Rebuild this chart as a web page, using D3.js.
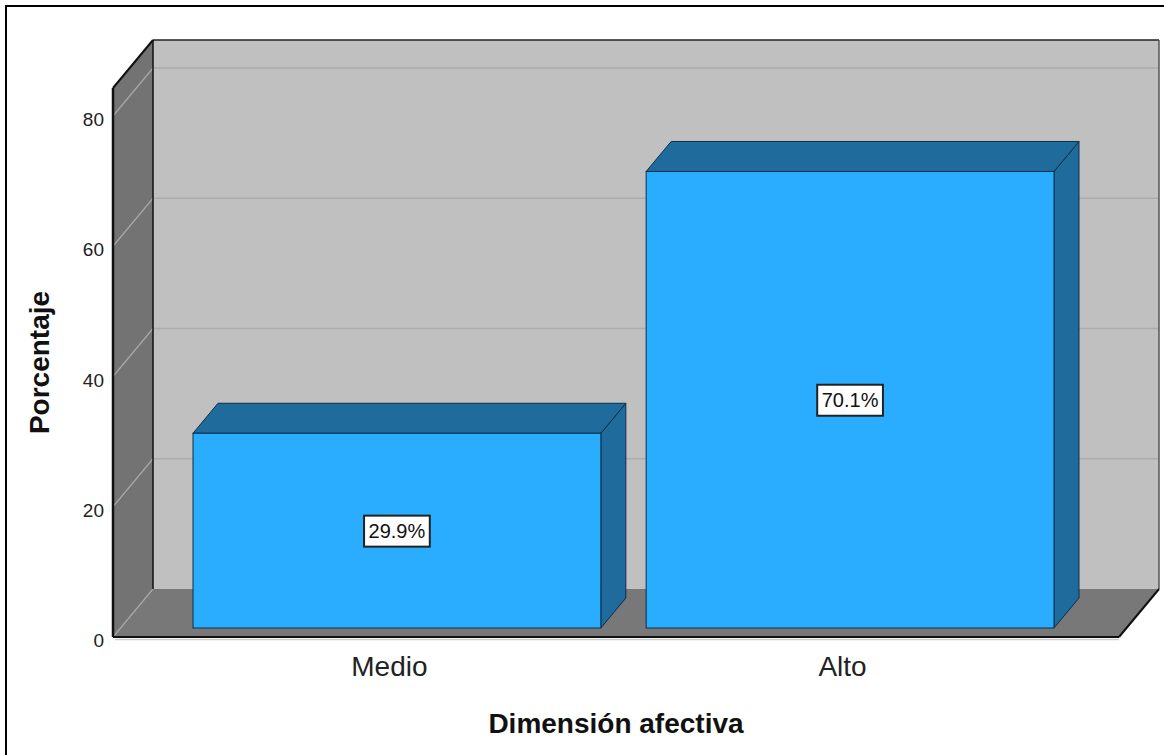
<!DOCTYPE html>
<html>
<head>
<meta charset="utf-8">
<script src="https://cdn.jsdelivr.net/npm/d3@7"></script>
<style>
  html, body { margin: 0; padding: 0; background: #fff; }
  svg { display: block; font-family: Arial, "Liberation Sans", sans-serif; }
</style>
</head>
<body>
<svg id="chart" width="1164" height="755"></svg>
<script>
// ---- data ----
const categories = ["Medio", "Alto"];
const percentages = [29.9, 70.1];
const valueLabels = ["29.9%", "70.1%"];
const yTicks = [0, 20, 40, 60, 80];
const xTitle = "Dimensión afectiva";
const yTitle = "Porcentaje";

(function () {
// ---- layout ----
const svg = d3.select("#chart");
const left = 113, right = 1119, bottom = 637;
const depthX = 40, depthY = -48;          // 3D depth offset
const barFront = 0.1875, barBack = 0.8125; // bar depth fractions

const y = d3.scaleLinear().domain([0, 84.3]).range([bottom, 88]);
const x = d3.scaleBand().domain(categories).range([left, right])
  .paddingInner(0.1).paddingOuter(0.16);

const yTop = y.domain()[1];
const line = d3.line();

// outer frame (only top/left visible)
svg.append("rect").attr("x", 6).attr("y", 6).attr("width", 1200).attr("height", 800)
  .attr("fill", "none").attr("stroke", "#000").attr("stroke-width", 2);

// back wall
svg.append("path")
  .attr("d", line([[left + depthX, y(yTop) + depthY], [right + depthX, y(yTop) + depthY],
                   [right + depthX, y(0) + depthY], [left + depthX, y(0) + depthY]]) + "Z")
  .attr("fill", "#c0c0c0");

// left side wall
svg.append("path")
  .attr("d", line([[left, y(yTop)], [left + depthX, y(yTop) + depthY],
                   [left + depthX, y(0) + depthY], [left, y(0)]]) + "Z")
  .attr("fill", "#737373");

// floor
svg.append("path")
  .attr("d", line([[left, y(0)], [right, y(0)], [right + depthX, y(0) + depthY],
                   [left + depthX, y(0) + depthY]]) + "Z")
  .attr("fill", "#787878");

// gridlines on back wall
svg.selectAll("line.gridBack").data(yTicks.filter(d => d > 0)).enter().append("line")
  .attr("x1", left + depthX).attr("x2", right + depthX)
  .attr("y1", d => y(d) + depthY).attr("y2", d => y(d) + depthY)
  .attr("stroke", "#acacac").attr("stroke-width", 1.5);

// gridlines on side wall
svg.selectAll("line.gridSide").data(yTicks).enter().append("line")
  .attr("x1", left).attr("x2", left + depthX)
  .attr("y1", d => y(d)).attr("y2", d => y(d) + depthY)
  .attr("stroke", "#a8a8a8").attr("stroke-width", 1.2);

// wall edges
svg.append("line").attr("x1", left + depthX).attr("x2", right + depthX)
  .attr("y1", y(yTop) + depthY).attr("y2", y(yTop) + depthY)
  .attr("stroke", "#222").attr("stroke-width", 1.5);
svg.append("line").attr("x1", right + depthX).attr("x2", right + depthX)
  .attr("y1", y(yTop) + depthY).attr("y2", y(0) + depthY)
  .attr("stroke", "#555").attr("stroke-width", 1.5);
svg.append("line").attr("x1", left + depthX).attr("x2", left + depthX)
  .attr("y1", y(yTop) + depthY).attr("y2", y(0) + depthY)
  .attr("stroke", "#111").attr("stroke-width", 1.5);
svg.append("line").attr("x1", left).attr("x2", left + depthX)
  .attr("y1", y(yTop)).attr("y2", y(yTop) + depthY)
  .attr("stroke", "#111").attr("stroke-width", 2);
svg.append("line").attr("x1", left).attr("x2", left)
  .attr("y1", y(yTop)).attr("y2", y(0))
  .attr("stroke", "#111").attr("stroke-width", 2.5);
svg.append("line").attr("x1", left).attr("x2", right)
  .attr("y1", y(0)).attr("y2", y(0))
  .attr("stroke", "#111").attr("stroke-width", 2);
svg.append("line").attr("x1", left + 2).attr("x2", right)
  .attr("y1", y(0) + 2.5).attr("y2", y(0) + 2.5)
  .attr("stroke", "#cfcfcf").attr("stroke-width", 1.5);
svg.append("line").attr("x1", right).attr("x2", right + depthX)
  .attr("y1", y(0)).attr("y2", y(0) + depthY)
  .attr("stroke", "#111").attr("stroke-width", 2);

// bars
const fx = depthX * barFront, fy = depthY * barFront;
const bx = depthX * barBack, by = depthY * barBack;
const bars = svg.selectAll("g.bar").data(categories.map((c, i) => ({ c, v: percentages[i], lab: valueLabels[i] })))
  .enter().append("g");

// side face
bars.append("path")
  .attr("d", d => {
    const x1 = x(d.c) + x.bandwidth();
    return line([[x1 + fx, y(d.v) + fy], [x1 + bx, y(d.v) + by], [x1 + bx, y(0) + by], [x1 + fx, y(0) + fy]]) + "Z";
  })
  .attr("fill", "#1f6b9c").attr("stroke", "#0c2f4a").attr("stroke-width", 1);
// top face
bars.append("path")
  .attr("d", d => {
    const x0 = x(d.c), x1 = x(d.c) + x.bandwidth();
    return line([[x0 + fx, y(d.v) + fy], [x1 + fx, y(d.v) + fy], [x1 + bx, y(d.v) + by], [x0 + bx, y(d.v) + by]]) + "Z";
  })
  .attr("fill", "#1f6b9c").attr("stroke", "#0c2f4a").attr("stroke-width", 1);
// front face
bars.append("rect")
  .attr("x", d => x(d.c) + fx).attr("y", d => y(d.v) + fy)
  .attr("width", x.bandwidth()).attr("height", d => y(0) - y(d.v))
  .attr("fill", "#2aacff").attr("stroke", "#0c2f4a").attr("stroke-width", 1);

// value labels
bars.each(function (d) {
  const g = d3.select(this);
  const cx = x(d.c) + fx + x.bandwidth() / 2;
  const cy = (y(d.v) + y(0)) / 2 + fy;
  const rect = g.append("rect").attr("fill", "#fff").attr("stroke", "#222").attr("stroke-width", 2);
  const t = g.append("text").attr("x", cx).attr("y", cy + 7).attr("text-anchor", "middle")
    .attr("font-size", 20).attr("fill", "#111").text(d.lab);
  const w = t.node().getComputedTextLength() + 9;
  rect.attr("x", cx - w / 2).attr("y", cy - 15).attr("width", w).attr("height", 31);
});

// y tick labels
svg.selectAll("text.ytick").data(yTicks).enter().append("text")
  .attr("x", 104).attr("y", d => y(d) + 10).attr("text-anchor", "end")
  .attr("font-size", 19).attr("fill", "#222").text(d => d);

// category labels
svg.selectAll("text.cat").data(categories).enter().append("text")
  .attr("x", d => x(d) + x.bandwidth() / 2).attr("y", 676).attr("text-anchor", "middle")
  .attr("font-size", 28).attr("fill", "#222").text(d => d);

// axis titles
svg.append("text").attr("x", (left + right) / 2).attr("y", 733).attr("text-anchor", "middle")
  .attr("font-size", 28).attr("font-weight", "bold").attr("fill", "#111").text(xTitle);
svg.append("text").attr("transform", `translate(49, ${(y(yTop) + y(0)) / 2}) rotate(-90)`)
  .attr("text-anchor", "middle").attr("font-size", 28).attr("font-weight", "bold")
  .attr("fill", "#111").text(yTitle);
})();
</script>
</body>
</html>
